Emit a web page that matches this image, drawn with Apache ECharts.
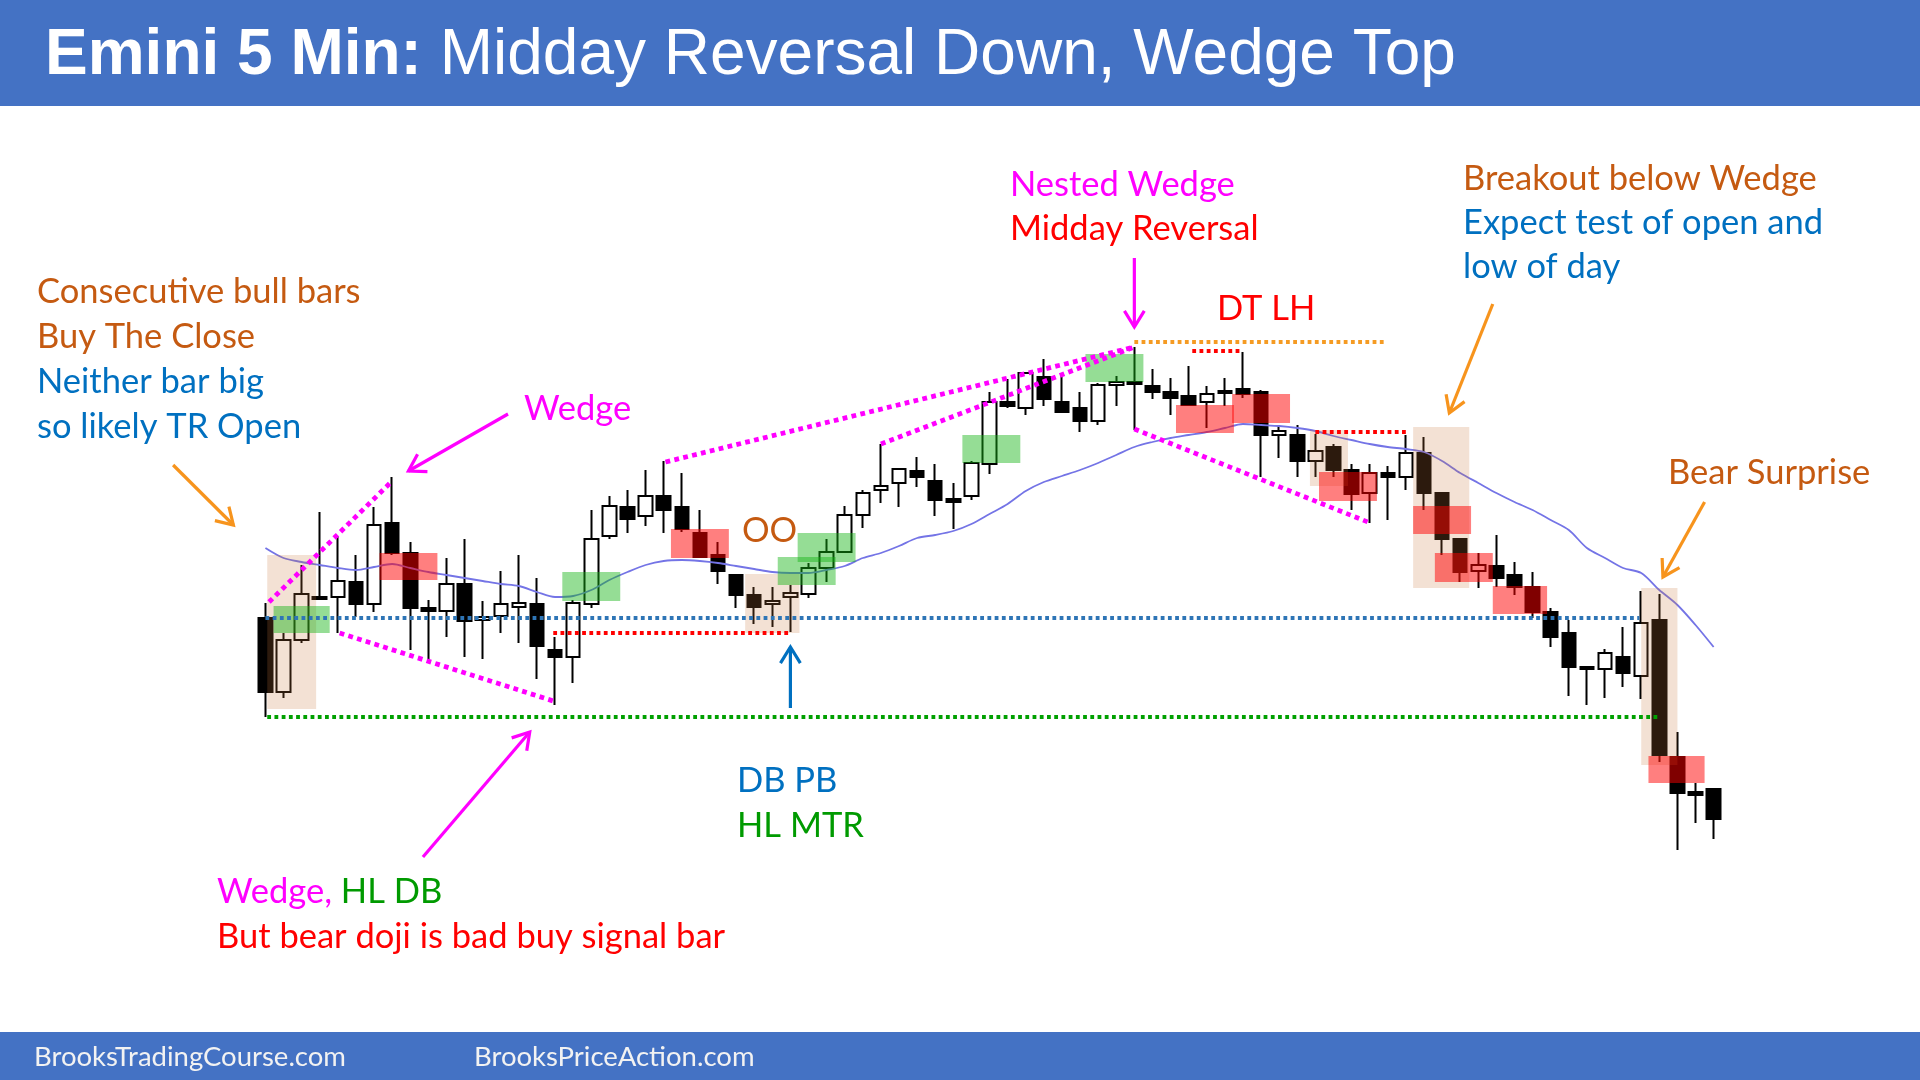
<!DOCTYPE html>
<html>
<head>
<meta charset="utf-8">
<title>Emini 5 Min: Midday Reversal Down, Wedge Top</title>
<script src="https://cdn.jsdelivr.net/npm/echarts@6/dist/echarts.min.js"></script>
<style>
  html, body { margin: 0; padding: 0; background: #fff; }
  #chart { width: 1920px; height: 1080px; }
</style>
</head>
<body>
<div id="chart"></div>
<script>
// 5 min bars (index = bar number)
var opens = [4138.2,4130.8,4136.0,4140.3,4140.3,4141.8,4139.6,4147.7,4144.7,4139.2,
  4138.9,4141.6,4138.0,4138.4,4139.3,4139.6,4135.0,4134.3,4139.6,4146.4,
  4149.3,4148.4,4150.4,4149.3,4146.7,4144.5,4142.5,4140.5,4139.6,4140.3,
  4140.6,4143.2,4144.8,4148.5,4151.0,4151.7,4152.9,4151.9,4150.1,4150.4,
  4153.6,4159.8,4159.2,4162.3,4159.8,4159.2,4157.9,4161.5,4161.8,4161.4,
  4160.8,4160.4,4159.8,4160.9,4161.1,4160.8,4156.5,4156.5,4153.9,4155.3,
  4153.0,4150.7,4152.7,4152.3,4154.7,4150.7,4146.1,4142.9,4143.4,4142.5,
  4141.3,4138.8,4136.7,4133.3,4133.1,4134.3,4132.4,4138.0,4124.3,4120.8,
  4121.1];
var closes = [4130.8,4136.0,4140.6,4140.1,4141.9,4139.6,4147.5,4144.7,4139.2,4138.9,
  4141.6,4137.9,4138.3,4139.6,4139.7,4135.4,4134.3,4139.7,4146.1,4149.4,
  4148.1,4150.4,4149.0,4147.1,4144.3,4142.9,4140.5,4139.3,4139.9,4140.7,
  4143.2,4144.8,4148.5,4150.7,4151.4,4153.1,4152.3,4150.0,4149.8,4153.7,
  4159.8,4159.4,4162.7,4160.1,4158.8,4157.9,4161.5,4161.8,4161.6,4160.8,
  4160.2,4159.5,4160.6,4160.7,4160.6,4156.5,4156.9,4153.9,4154.9,4153.0,
  4150.6,4152.7,4152.3,4154.7,4150.7,4146.1,4142.8,4143.5,4142.2,4141.3,
  4138.8,4136.3,4133.3,4133.1,4134.7,4132.7,4137.7,4124.5,4120.7,4120.5,
  4118.1];
var lows = [4128.3,4130.2,4135.7,4140.0,4136.7,4138.3,4138.8,4144.5,4135.0,4134.0,
  4136.3,4134.3,4134.1,4136.7,4135.7,4132.1,4129.5,4131.7,4139.2,4146.1,
  4146.7,4147.4,4146.7,4146.8,4144.2,4141.6,4139.2,4137.6,4137.3,4136.8,
  4140.2,4141.8,4144.7,4147.2,4149.7,4149.3,4151.3,4148.4,4147.1,4150.0,
  4152.6,4159.2,4158.5,4159.4,4158.7,4156.8,4157.5,4159.4,4157.0,4160.1,
  4158.5,4159.4,4157.2,4159.4,4160.2,4152.3,4154.2,4152.3,4152.3,4152.3,
  4149.0,4147.7,4148.0,4151.0,4149.0,4144.5,4141.8,4141.2,4141.3,4140.5,
  4138.2,4135.3,4130.4,4129.5,4130.2,4131.3,4130.1,4123.8,4115.0,4117.7,
  4116.1];
var highs = [4139.7,4136.7,4143.5,4148.8,4146.4,4144.5,4149.3,4152.3,4145.8,4140.0,
  4144.2,4146.1,4139.9,4142.9,4144.5,4142.2,4136.3,4140.0,4149.0,4150.4,
  4151.0,4153.0,4153.9,4152.7,4149.0,4145.8,4142.6,4141.3,4141.3,4141.5,
  4143.7,4146.1,4149.4,4151.0,4155.6,4153.2,4154.3,4153.6,4151.7,4153.9,
  4160.8,4162.1,4162.8,4164.1,4162.4,4160.8,4161.7,4162.4,4165.3,4163.1,
  4162.2,4163.4,4161.4,4162.2,4164.8,4161.0,4157.5,4157.5,4156.6,4155.6,
  4153.6,4153.6,4153.4,4156.5,4156.3,4150.7,4146.1,4144.7,4146.5,4143.8,
  4142.8,4139.2,4138.0,4133.3,4135.1,4137.3,4140.9,4140.6,4126.8,4121.7,
  4121.1];
// 20 bar EMA
var ema = [4145.2,4144.2,4143.8,4143.5,4143.2,4143.0,4143.3,4143.6,4143.2,4142.8,
  4142.5,4142.2,4141.9,4141.6,4141.4,4140.8,4140.3,4140.4,4141.0,4142.0,
  4142.8,4143.5,4143.9,4144.0,4143.9,4143.7,4143.4,4143.1,4142.8,4142.7,
  4142.7,4143.0,4143.4,4144.2,4144.7,4145.4,4146.2,4146.5,4146.9,4147.6,
  4148.6,4149.6,4150.9,4151.8,4152.4,4153.0,4153.7,4154.5,4155.3,4155.8,
  4156.2,4156.5,4156.8,4157.2,4157.6,4157.5,4157.4,4157.2,4156.9,4156.4,
  4156.0,4155.6,4155.3,4155.1,4154.8,4153.9,4152.7,4151.7,4150.7,4149.8,
  4149.0,4148.0,4147.0,4145.2,4144.2,4143.2,4142.7,4141.0,4139.5,4137.5,
  4135.3];

// highlight boxes: [from bar, to bar, top price, bottom price, kind 0 tan / 1 green / 2 red]
var boxes = [
  [0.1, 2.8, 4144.5, 4129.1, 0],
  [0.45, 3.55, 4139.4, 4136.7, 1],
  [6.3, 9.5, 4144.7, 4142.0, 2],
  [16.4, 19.6, 4142.8, 4139.9, 1],
  [22.4, 25.6, 4147.1, 4144.2, 2],
  [26.5, 29.5, 4142.6, 4136.7, 0],
  [28.3, 31.5, 4144.3, 4141.5, 1],
  [29.4, 32.6, 4146.7, 4143.8, 1],
  [38.5, 41.7, 4156.5, 4153.7, 1],
  [45.3, 48.5, 4164.6, 4161.8, 1],
  [50.3, 53.5, 4159.5, 4156.7, 2],
  [53.4, 56.6, 4160.6, 4157.7, 2],
  [57.7, 59.8, 4157.0, 4151.4, 0],
  [58.2, 61.4, 4152.8, 4149.9, 2],
  [63.4, 66.5, 4157.3, 4141.2, 0],
  [63.4, 66.6, 4149.4, 4146.6, 2],
  [64.6, 67.8, 4144.7, 4141.8, 2],
  [67.8, 70.8, 4141.4, 4138.6, 2],
  [76.0, 78.0, 4141.2, 4123.5, 0],
  [76.4, 79.5, 4124.4, 4121.7, 2]
];
// dotted lines: [bar, price, bar, price, colour]
var dotted = [
  [0.2, 4139.8, 7.0, 4151.9, 0],
  [4.1, 4136.7, 15.9, 4129.9, 0],
  [22.1, 4153.8, 48.0, 4165.3, 0],
  [34.0, 4155.6, 48.0, 4165.3, 0],
  [48.0, 4157.1, 60.9, 4147.8, 0],
  [48.0, 4165.8, 61.9, 4165.8, 4],
  [51.2, 4164.9, 53.9, 4164.9, 3],
  [58.0, 4156.8, 63.0, 4156.8, 3],
  [15.9, 4136.7, 29.0, 4136.7, 3],
  [0.0, 4138.2, 75.9, 4138.2, 1],
  [0.1, 4128.3, 76.9, 4128.3, 2]
];
// arrows: [tail bar, tail price, head bar, head price, colour]
var arrows = [
  [-5.1, 4153.5, -1.77, 4147.5, 4],
  [13.4, 4158.6, 7.9, 4152.9, 0],
  [48.0, 4174.2, 48.0, 4167.3, 0],
  [67.8, 4169.6, 65.4, 4158.7, 4],
  [79.5, 4149.8, 77.2, 4142.3, 4],
  [29.0, 4129.2, 29.0, 4135.3, 1],
  [8.7, 4114.3, 14.6, 4126.8, 0]
];

var boxFill = ['rgba(200,120,60,0.22)', 'rgba(20,180,20,0.45)', 'rgba(255,0,0,0.5)'];
var lineColors = ['#FF00FF', '#2E75B6', '#00A000', '#FF0000', '#F59B23'];
var arrowColors = ['#FF00FF', '#0070C0', '#00A000', '#FF0000', '#F7941D'];

var ORANGE = '#C55A11', BLUE = '#0070C0', MAGENTA = '#FF00FF', RED = '#FF0000', GREEN = '#009A00';
var notes = [
  ['Consecutive bull bars', 37, 292, ORANGE],
  ['Buy The Close', 37, 337, ORANGE],
  ['Neither bar big', 37, 382, BLUE],
  ['so likely TR Open', 37, 427, BLUE],
  ['Wedge', 524, 409, MAGENTA],
  ['Nested Wedge', 1010, 185, MAGENTA],
  ['Midday Reversal', 1010, 229, RED],
  ['DT LH', 1217, 309, RED],
  ['Breakout below Wedge', 1463, 179, ORANGE],
  ['Expect test of open and', 1463, 223, BLUE],
  ['low of day', 1463, 267, BLUE],
  ['OO', 742, 531, ORANGE],
  ['Bear Surprise', 1668, 473, ORANGE],
  ['DB PB', 737, 781, BLUE],
  ['HL MTR', 737, 826, GREEN],
  ['But bear doji is bad buy signal bar', 217, 937, RED]
];

var chart = echarts.init(document.getElementById('chart'));

var candles = opens.map(function (o, i) {
  return [i, o, closes[i], lows[i], highs[i]];
});
var emaLine = ema.map(function (v, i) { return [i, v]; });

var noteFont = '34.5px Lato';
var graphics = [
  { type: 'rect', shape: { x: 0, y: 0, width: 1920, height: 106 }, style: { fill: '#4472C4' }, z: 0 },
  { type: 'rect', shape: { x: 0, y: 1032, width: 1920, height: 48 }, style: { fill: '#4472C4' }, z: 0 },
  {
    type: 'text', x: 45, y: 56, z: 10,
    style: {
      text: '{b|Emini 5 Min:}{r| Midday Reversal Down, Wedge Top}',
      textVerticalAlign: 'middle',
      rich: {
        b: { font: 'bold 64px "Liberation Sans"', fill: '#fff' },
        r: { font: '64px "Liberation Sans"', fill: '#fff' }
      }
    }
  },
  { type: 'text', x: 34, y: 1057, z: 10, style: { text: 'BrooksTradingCourse.com', font: '27.5px Lato', fill: '#F2F2F2', textVerticalAlign: 'middle' } },
  { type: 'text', x: 474, y: 1057, z: 10, style: { text: 'BrooksPriceAction.com', font: '27.5px Lato', fill: '#F2F2F2', textVerticalAlign: 'middle' } },
  {
    type: 'text', x: 217, y: 892, z: 10,
    style: {
      text: '{m|Wedge,}{g| HL DB}',
      textVerticalAlign: 'middle',
      rich: {
        m: { font: noteFont, fill: MAGENTA },
        g: { font: noteFont, fill: GREEN }
      }
    }
  }
];
notes.forEach(function (n) {
  graphics.push({
    type: 'text', x: n[1], y: n[2], z: 10,
    style: { text: n[0], font: noteFont, fill: n[3], textVerticalAlign: 'middle' }
  });
});

var option = {
  animation: false,
  backgroundColor: '#fff',
  grid: { left: 12, right: 0, top: 100, bottom: 80 },
  xAxis: { type: 'value', min: -14, max: 91.4, show: false },
  yAxis: { type: 'value', min: 4100, max: 4190, show: false, scale: true },
  graphic: graphics,
  series: [{
    name: 'ES',
    type: 'candlestick',
    z: 2,
    barWidth: 14,
    data: candles,
    itemStyle: {
      color: '#FFFFFF',
      color0: '#000000',
      borderColor: '#000000',
      borderColor0: '#000000',
      borderWidth: 2
    }
  }, {
    name: 'EMA',
    type: 'line',
    z: 3,
    data: emaLine,
    showSymbol: false,
    smooth: 0.3,
    lineStyle: { color: '#7474E6', width: 1.8 }
  }, {
    name: 'boxes',
    type: 'custom',
    z: 4,
    silent: true,
    data: boxes,
    encode: { x: [0, 1], y: [2, 3] },
    renderItem: function (params, api) {
      var a = api.coord([api.value(0), api.value(2)]);
      var b = api.coord([api.value(1), api.value(3)]);
      return {
        type: 'rect',
        shape: { x: a[0], y: a[1], width: b[0] - a[0], height: b[1] - a[1] },
        style: { fill: boxFill[api.value(4)] }
      };
    }
  }, {
    name: 'dotted',
    type: 'custom',
    z: 5,
    silent: true,
    data: dotted,
    encode: { x: [0, 2], y: [1, 3] },
    renderItem: function (params, api) {
      var a = api.coord([api.value(0), api.value(1)]);
      var b = api.coord([api.value(2), api.value(3)]);
      var c = api.value(4);
      var w = c === 0 ? 4.8 : 3.8;
      return {
        type: 'line',
        shape: { x1: a[0], y1: a[1], x2: b[0], y2: b[1] },
        style: { stroke: lineColors[c], lineWidth: w, lineDash: [w, w * 0.9], fill: 'none' }
      };
    }
  }, {
    name: 'arrows',
    type: 'custom',
    z: 6,
    silent: true,
    data: arrows,
    encode: { x: [0, 2], y: [1, 3] },
    renderItem: function (params, api) {
      var a = api.coord([api.value(0), api.value(1)]);
      var b = api.coord([api.value(2), api.value(3)]);
      var ang = Math.atan2(b[1] - a[1], b[0] - a[0]);
      var len = 19, spread = 0.55;
      var h1 = [b[0] - len * Math.cos(ang - spread), b[1] - len * Math.sin(ang - spread)];
      var h2 = [b[0] - len * Math.cos(ang + spread), b[1] - len * Math.sin(ang + spread)];
      var color = arrowColors[api.value(4)];
      return {
        type: 'group',
        children: [
          { type: 'line', shape: { x1: a[0], y1: a[1], x2: b[0], y2: b[1] }, style: { stroke: color, lineWidth: 3.2, fill: 'none' } },
          { type: 'polyline', shape: { points: [h1, b, h2] }, style: { stroke: color, lineWidth: 3.2, fill: 'none' } }
        ]
      };
    }
  }]
};

chart.setOption(option);
</script>
</body>
</html>
